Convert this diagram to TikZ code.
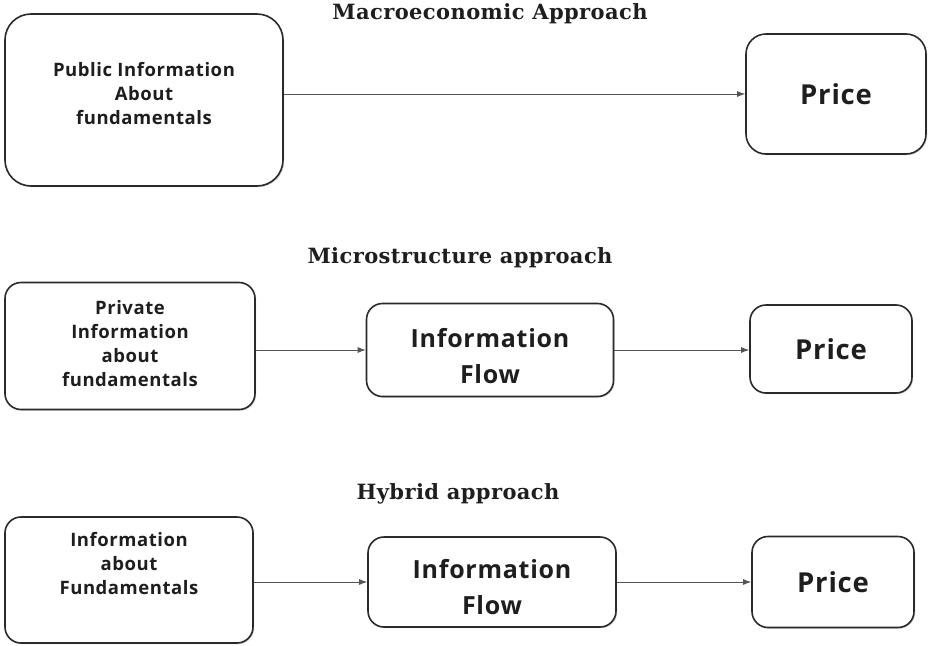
\documentclass[tikz,border=0pt]{standalone}
\usepackage{fontspec}
\setmainfont[LetterSpace=2]{DejaVu Serif}
\newfontfamily\boxfont[LetterSpace=3]{Open Sans}
\usetikzlibrary{arrows.meta,shadows}
\definecolor{edge}{HTML}{2A2A2A}
\definecolor{ink}{HTML}{1E1E1E}
\tikzset{
  box/.style={draw=edge, line width=1.6pt, fill=white, rounded corners=#1,
    drop shadow={shadow xshift=1.2pt, shadow yshift=-1.2pt, opacity=0.35, fill=gray}},
  box/.default=16pt,
  txt/.style={font=\boxfont\bfseries\fontsize{18.5}{24}\selectfont, text=ink, align=center},
  bigtxt/.style={font=\boxfont\bfseries\fontsize{25}{36}\selectfont, text=ink, align=center},
  pricetxt/.style={font=\boxfont\bfseries\fontsize{27.5}{30}\selectfont, text=ink},
  ttl/.style={font=\bfseries\fontsize{21}{24}\selectfont, text=ink},
  conn/.style={draw=edge!80, line width=0.9pt, -{Latex[length=8pt,width=6pt]}}
}
\begin{document}
\begin{tikzpicture}[x=1pt,y=-1pt]
\useasboundingbox[fill=white] (0,0) rectangle (928,645);

% Row 1
\node[ttl] (ttl1) at (490,14) {Macroeconomic Approach};
\node[box=26pt, minimum width=278pt, minimum height=172pt] (b1) at (144,100) {};
\node[txt] (t1) at (144,94) {Public Information\\About\\fundamentals};
\node[box=20pt, minimum width=180pt, minimum height=120pt] (p1) at (836,94) {};
\node[pricetxt] (pt1) at (836,94) {Price};
\draw[conn] (b1.east |- p1.west) -- (p1.west);

% Row 2
\node[ttl] (ttl2) at (460,258) {Microstructure approach};
\node[box, minimum width=250pt, minimum height=127pt] (b2a) at (130,346) {};
\node[txt] (t2a) at (130,344) {Private\\Information\\about\\fundamentals};
\node[box, minimum width=247pt, minimum height=93pt] (b2b) at (490,350) {};
\node[bigtxt] (t2b) at (490,356) {Information\\Flow};
\node[box, minimum width=162pt, minimum height=88pt] (b2c) at (831,349) {};
\node[pricetxt] (pt2) at (831,349) {Price};
\draw[conn] (b2a.east |- b2b.west) -- (b2b.west);
\draw[conn] (b2b.east) -- (b2b.east -| b2c.west);

% Row 3
\node[ttl] (ttl3) at (458,494) {Hybrid approach};
\node[box, minimum width=248pt, minimum height=126pt] (b3a) at (129,580) {};
\node[txt] (t3a) at (129,564) {Information\\about\\Fundamentals};
\node[box, minimum width=248pt, minimum height=90pt] (b3b) at (492,582) {};
\node[bigtxt] (t3b) at (492,587) {Information\\Flow};
\node[box, minimum width=162pt, minimum height=91pt] (b3c) at (833,582) {};
\node[pricetxt] (pt3) at (833,582) {Price};
\draw[conn] (b3a.east |- b3b.west) -- (b3b.west);
\draw[conn] (b3b.east) -- (b3b.east -| b3c.west);
\end{tikzpicture}
\end{document}
